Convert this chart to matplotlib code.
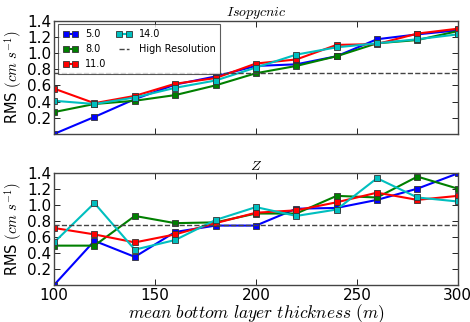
import matplotlib
matplotlib.use("Agg")
import matplotlib.pyplot as plt

plt.rcParams["mathtext.fontset"] = "cm"

thickness = [100, 120, 140, 160, 180, 200, 220, 240, 260, 280, 300]
series_labels = ["5.0", "8.0", "11.0", "14.0"]
colors = ["#0000ff", "#008000", "#ff0000", "#00bfbf"]

iso_5 = [0.00, 0.21, 0.43, 0.61, 0.71, 0.84, 0.86, 0.96, 1.17, 1.23, 1.28]
iso_8 = [0.27, 0.37, 0.41, 0.48, 0.60, 0.75, 0.84, 0.96, 1.12, 1.16, 1.27]
iso_11 = [0.56, 0.38, 0.47, 0.62, 0.69, 0.87, 0.92, 1.10, 1.11, 1.24, 1.30]
iso_14 = [0.41, 0.37, 0.45, 0.57, 0.66, 0.82, 0.98, 1.07, 1.12, 1.17, 1.23]

z_5 = [0.00, 0.55, 0.35, 0.66, 0.74, 0.74, 0.95, 0.96, 1.06, 1.20, 1.39]
z_8 = [0.49, 0.49, 0.86, 0.77, 0.78, 0.89, 0.89, 1.11, 1.09, 1.35, 1.20]
z_11 = [0.71, 0.63, 0.53, 0.63, 0.77, 0.90, 0.93, 1.03, 1.15, 1.06, 1.11]
z_14 = [0.53, 1.02, 0.44, 0.56, 0.81, 0.97, 0.86, 0.94, 1.33, 1.09, 1.04]

high_res_iso = 0.75
high_res_z = 0.75

fig = plt.figure(figsize=(4.7, 3.22), dpi=100)
ax1 = fig.add_axes([0.115, 0.584, 0.859, 0.352])
ax2 = fig.add_axes([0.115, 0.115, 0.859, 0.349])

panels = [
    (ax1, [iso_5, iso_8, iso_11, iso_14], high_res_iso, "$Isopycnic$"),
    (ax2, [z_5, z_8, z_11, z_14], high_res_z, "$Z$"),
]

for ax, data, hr, title in panels:
    for vals, lab, col in zip(data, series_labels, colors):
        ax.plot(thickness, vals, color=col, lw=1.5, marker="s", ms=5,
                mec="#333333", mew=0.6, label=lab)
    ax.axhline(hr, color="#444444", ls="--", lw=1.0, label="High Resolution")
    ax.set_xlim(100, 300)
    ax.set_ylim(0, 1.4)
    ax.set_yticks([0.2, 0.4, 0.6, 0.8, 1.0, 1.2, 1.4])
    ax.set_xticks([100, 150, 200, 250, 300])
    ax.tick_params(direction="in", top=True, right=True, labelsize=11,
                   length=4, width=0.6, pad=2)
    ax.set_title(title, fontsize=10, pad=2)
    ax.set_ylabel("RMS $(cm\\ s^{-1})$", fontsize=10.5, labelpad=2)
    for sp in ax.spines.values():
        sp.set_color("#444444")
        sp.set_linewidth(1.0)

ax1.set_xticklabels([])
ax2.set_xlabel("$mean\\ bottom\\ layer\\ thickness\\ (m)$", fontsize=12.5, labelpad=0)

leg = ax1.legend(loc="upper left", ncol=2, fontsize=7, frameon=True,
                 fancybox=False, borderpad=0.5, handlelength=1.6,
                 handletextpad=0.7, columnspacing=1.0, labelspacing=0.5,
                 numpoints=2, borderaxespad=0.4)
leg.get_frame().set_edgecolor("#333333")
leg.get_frame().set_linewidth(0.8)

fig.savefig("out.png", dpi=100)
